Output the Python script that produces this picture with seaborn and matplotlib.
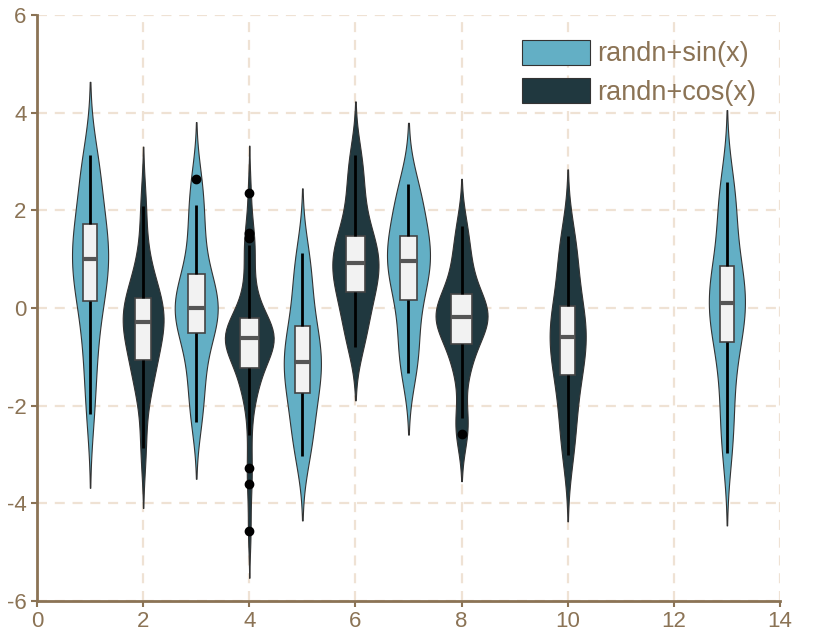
import numpy as np
import pandas as pd
import matplotlib
matplotlib.use("Agg")
import matplotlib.pyplot as plt
from matplotlib.patches import Patch
import seaborn as sns

# ---- data ----
positions = [1, 2, 3, 4, 5, 6, 7, 8, 10, 13]
series = ["randn+sin(x)", "randn+cos(x)", "randn+sin(x)", "randn+cos(x)", "randn+sin(x)",
          "randn+cos(x)", "randn+sin(x)", "randn+cos(x)", "randn+cos(x)", "randn+sin(x)"]
data_1 = [-2.18, -1.4, -0.8, -0.3, 0.15, 0.37, 0.58, 0.79, 1.0, 1.18, 1.36, 1.54, 1.72, 2.15, 2.5, 2.85, 3.13]
data_2 = [-2.87, -1.8, -1.4, -1.2, -1.07, -0.7, -0.5, -0.38, -0.29, -0.2, -0.1, 0.02, 0.21, 0.35, 0.6, 1.1, 2.08]
data_3 = [-2.33, -1.8, -1.35, -0.95, -0.52, -0.38, -0.25, -0.12, 0.01, 0.18, 0.35, 0.52, 0.70, 1.2, 1.65, 2.11, 2.64]
data_4 = [-4.56, -3.61, -3.27, -2.6, -2.0, -1.75, -1.6, -1.48, -1.38, -1.3, -1.22,
          -1.0, -0.9, -0.84, -0.79, -0.75, -0.72, -0.69, -0.66, -0.64, -0.62,
          -0.6, -0.58, -0.56, -0.54, -0.51, -0.48, -0.44, -0.38, -0.3, -0.21,
          -0.1, 0.05, 0.2, 0.45, 0.75, 1.05, 1.30, 1.43, 1.54, 2.36]
data_5 = [-3.03, -2.75, -2.45, -2.15, -1.75, -1.58, -1.42, -1.26, -1.10, -0.92, -0.74, -0.56, -0.37, 0.05, 0.45, 0.8, 1.13]
data_6 = [-0.79, -0.5, -0.2, 0.08, 0.33, 0.48, 0.63, 0.78, 0.93, 1.07, 1.2, 1.34, 1.48, 1.85, 2.25, 2.7, 3.13]
data_7 = [-1.33, -1.05, -0.7, -0.3, 0.16, 0.38, 0.58, 0.78, 0.96, 1.09, 1.22, 1.35, 1.48, 1.85, 2.1, 2.35, 2.53]
data_8 = [-2.57, -2.25, -1.35, -1.0, -0.74, -0.45, -0.33, -0.25, -0.18, -0.12, -0.05, 0.05, 0.28, 0.5, 0.85, 1.2, 1.67]
data_10 = [-3.01, -2.6, -2.15, -1.75, -1.37, -1.17, -0.98, -0.78, -0.59, -0.43, -0.27, -0.11, 0.05, 0.5, 0.9, 1.2, 1.48]
data_13 = [-2.97, -2.4, -1.8, -1.25, -0.70, -0.50, -0.30, -0.10, 0.11, 0.30, 0.48, 0.67, 0.85, 1.4, 1.85, 2.25, 2.57]
samples = [data_1, data_2, data_3, data_4, data_5, data_6, data_7, data_8, data_10, data_13]
x_ticks = [0, 2, 4, 6, 8, 10, 12, 14]
y_ticks = [-6, -4, -2, 0, 2, 4, 6]

# ---- style ----
BROWN = "#8B7355"
GRID = "#EFE2D4"
hue_order = ["randn+sin(x)", "randn+cos(x)"]
palette = {"randn+sin(x)": "#63AFC5", "randn+cos(x)": "#20383F"}
# maximum violin width (in x units) of each violin
violin_widths = [0.68, 0.77, 0.81, 0.92, 0.70, 0.87, 0.81, 0.98, 0.68, 0.68]

sns.set_theme(style="white")
plt.rcParams["font.family"] = ["Liberation Sans", "DejaVu Sans"]


def robust_bw(kde):
    """Bandwidth proportional to a robust spread estimate (IQR/1.349)."""
    d = np.asarray(kde.dataset).ravel()
    sd = d.std(ddof=1)
    q1, q3 = np.percentile(d, [25, 75])
    spread = min(sd, (q3 - q1) / 1.349)
    return 0.6 * spread / sd


fig = plt.figure(figsize=(8.15, 6.41), dpi=100)
ax = fig.add_axes([0.0454, 0.0624, 0.9116, 0.9142])

for p, s, vals, w in zip(positions, series, samples, violin_widths):
    sub = pd.DataFrame({"x": [p] * len(vals), "value": vals})
    sns.violinplot(data=sub, x="x", y="value", native_scale=True, color=palette[s],
                   inner=None, cut=2.15, bw_method=robust_bw, density_norm="width",
                   width=w, linewidth=0.8, linecolor="#333333", saturation=1, ax=ax)

# widths of each violin, to scale the boxes
vwidths = {}
for coll in ax.collections:
    for path in coll.get_paths():
        v = path.vertices
        if len(v) < 3:
            continue
        cx = (v[:, 0].min() + v[:, 0].max()) / 2
        p = min(positions, key=lambda q: abs(q - cx))
        vwidths[p] = v[:, 0].max() - v[:, 0].min()

for p, vals in zip(positions, samples):
    bw = 0.4 * vwidths.get(p, 0.7)
    sns.boxplot(x=[p] * len(vals), y=vals, native_scale=True, width=bw, color="#F2F2F2",
                saturation=1, linecolor="#444444", linewidth=1.2, whis=1.5, showcaps=False,
                fliersize=6,
                flierprops=dict(marker="o", markerfacecolor="black", markeredgecolor="black"),
                medianprops=dict(color="#555555", linewidth=3),
                whiskerprops=dict(color="black", linewidth=2),
                ax=ax)

ax.set_xlim(0, 14)
ax.set_ylim(-6, 6)
ax.set_xticks(x_ticks)
ax.set_yticks(y_ticks)
ax.set_xticklabels([str(t) for t in x_ticks])
ax.set_yticklabels([str(t) for t in y_ticks])
ax.set_xlabel("")
ax.set_ylabel("")

ax.set_axisbelow(True)
ax.grid(True, color=GRID, linestyle=(0, (4.5, 3.5)), linewidth=1.6)
for side in ["top", "right"]:
    ax.spines[side].set_visible(False)
for side in ["left", "bottom"]:
    ax.spines[side].set_color(BROWN)
    ax.spines[side].set_linewidth(2)
ax.tick_params(axis="both", colors=BROWN, labelcolor=BROWN, labelsize=16, length=4, width=1.5,
               direction="out", left=True, bottom=True)

handles = [Patch(facecolor=palette[k], edgecolor="#333333", linewidth=0.8, label=k) for k in hue_order]
old = ax.get_legend()
if old is not None:
    old.remove()
ax.legend(handles=handles, loc="upper left", bbox_to_anchor=(0.653, 0.958), frameon=False,
          fontsize=19.5, labelcolor=BROWN, handlelength=2.5, handleheight=1.05,
          handletextpad=0.27, labelspacing=0.38, borderpad=0, borderaxespad=0)

fig.savefig("out.png", dpi=100)
